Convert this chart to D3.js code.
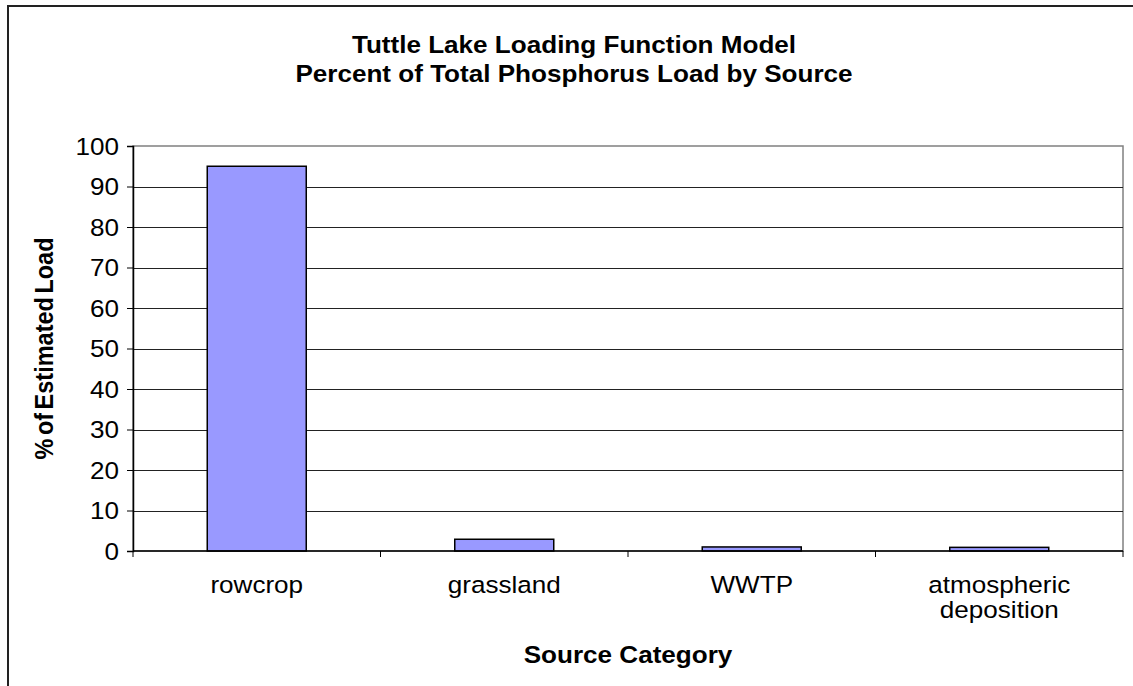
<!DOCTYPE html>
<html>
<head>
<meta charset="utf-8">
<script src="https://cdn.jsdelivr.net/npm/d3@7"></script>
<style>
  html, body { margin: 0; padding: 0; background: #fff; }
  svg { display: block; font-family: "Liberation Sans", Arial, sans-serif; }
</style>
</head>
<body>
<svg id="chart" width="1133" height="686"></svg>
<script>
// Source categories and their share of the total phosphorus load (%)
const categories = ["rowcrop", "grassland", "WWTP", "atmospheric deposition"];
const categoryLines = [["rowcrop"], ["grassland"], ["WWTP"], ["atmospheric", "deposition"]];
const percentLoad = [95, 2.9, 1.0, 0.9];
const yTicks = [0, 10, 20, 30, 40, 50, 60, 70, 80, 90, 100];
const titleLines = ["Tuttle Lake Loading Function Model", "Percent of Total Phosphorus Load by Source"];

const FONT = 23.5;      // text size
const WIDEN = 1.11;     // horizontal widening applied to all text

const svg = d3.select("#chart");
const plot = { left: 133, right: 1123, top: 146, bottom: 551 };

// Place a piece of text at (x, y) with the horizontal widening applied
function label(parent, x, y, str, opts = {}) {
  return parent.append("text")
    .attr("transform", `translate(${x},${y}) scale(${WIDEN},1)`)
    .attr("text-anchor", opts.anchor || "middle")
    .attr("font-size", FONT)
    .attr("font-weight", opts.bold ? "bold" : "normal")
    .attr("fill", "#000")
    .text(str);
}

// Outer chart frame (extends past the right and bottom edges)
svg.append("rect")
  .attr("x", 8).attr("y", 6)
  .attr("width", 1160).attr("height", 700)
  .attr("fill", "#fff").attr("stroke", "#222").attr("stroke-width", 2);

const x = d3.scaleBand().domain(categories).range([plot.left, plot.right]).paddingInner(0.6).paddingOuter(0.3);
const xBand = d3.scaleBand().domain(categories).range([plot.left, plot.right]);
const y = d3.scaleLinear().domain([0, 100]).range([plot.bottom, plot.top]);

// Plot area border (grey top and right edges)
svg.append("rect")
  .attr("x", plot.left).attr("y", plot.top)
  .attr("width", plot.right - plot.left).attr("height", plot.bottom - plot.top)
  .attr("fill", "#fff").attr("stroke", "#808080").attr("stroke-width", 1.5);

// Horizontal gridlines
svg.append("g").selectAll("line")
  .data(yTicks.filter(d => d > 0 && d < 100))
  .join("line")
  .attr("x1", plot.left).attr("x2", plot.right)
  .attr("y1", d => Math.round(y(d)) + 0.5).attr("y2", d => Math.round(y(d)) + 0.5)
  .attr("stroke", "#222").attr("stroke-width", 1);

// Bars
svg.append("g").selectAll("rect")
  .data(categories)
  .join("rect")
  .attr("x", d => x(d))
  .attr("width", x.bandwidth())
  .attr("y", (d, i) => y(percentLoad[i]))
  .attr("height", (d, i) => y(0) - y(percentLoad[i]))
  .attr("fill", "#9999FF")
  .attr("stroke", "#000").attr("stroke-width", 1.5);

// Y axis
const yAxis = svg.append("g")
  .attr("transform", `translate(${plot.left},0)`)
  .call(d3.axisLeft(y).tickValues(yTicks).tickSize(6).tickPadding(6));
yAxis.select(".domain").attr("stroke", "#000").attr("stroke-width", 1.5);
yAxis.selectAll(".tick line").attr("stroke", "#000");
yAxis.selectAll(".tick text").remove();
yAxis.selectAll(".tick").each(function(d) {
  label(d3.select(this), -14, 8, d, { anchor: "end" });
});

// X axis: ticks at band boundaries
const xAxisG = svg.append("g").attr("transform", `translate(0,${plot.bottom})`);
xAxisG.append("line")
  .attr("x1", plot.left).attr("x2", plot.right)
  .attr("stroke", "#000").attr("stroke-width", 1.5);
const boundaries = categories.map(d => xBand(d)).concat([plot.right]);
xAxisG.selectAll("line.tick")
  .data(boundaries)
  .join("line").attr("class", "tick")
  .attr("x1", d => d).attr("x2", d => d)
  .attr("y1", 0).attr("y2", 6)
  .attr("stroke", "#000");

// Category labels (multi-line where needed)
categories.forEach((c, i) => {
  categoryLines[i].forEach((line, j) => {
    label(xAxisG, xBand(c) + xBand.bandwidth() / 2, 42 + j * 25, line);
  });
});

// Axis titles
label(svg, (plot.left + plot.right) / 2, 663, "Source Category", { bold: true });

// Vertical title: widening goes across the glyphs, so it becomes a y-scale after rotation
svg.append("text")
  .attr("transform", `translate(53,${(plot.top + plot.bottom) / 2}) rotate(-90) scale(1,${WIDEN})`)
  .attr("text-anchor", "middle")
  .attr("font-size", FONT).attr("font-weight", "bold")
  .attr("word-spacing", -3)
  .text("% of Estimated Load");

// Chart title
titleLines.forEach((t, i) => label(svg, 574, 53 + i * 29, t, { bold: true }));
</script>
</body>
</html>
